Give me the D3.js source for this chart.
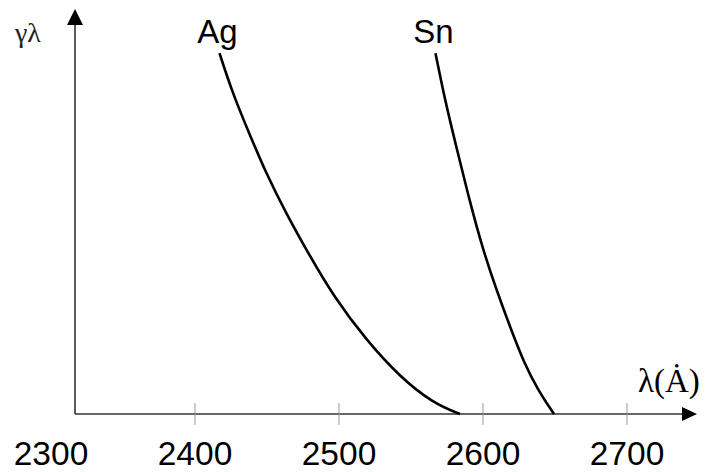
<!DOCTYPE html>
<html>
<head>
<meta charset="utf-8">
<script src="https://cdn.jsdelivr.net/npm/d3@7"></script>
<style>
  html, body { margin: 0; padding: 0; background: #fff; }
  svg { display: block; }
  .curve { fill: none; stroke: #000; stroke-width: 2.6; }
  .axis-line { stroke: #333; stroke-width: 1.6; }
  .tick-mark { stroke: #999; stroke-width: 1; }
</style>
</head>
<body>
<div id="chart"></div>
<script>
// wavelength tick labels (Angstrom)
var tickValues = [2300, 2400, 2500, 2600, 2700];

// Ag curve: wavelength, relative yield
var agLambda = [2417, 2426, 2437.5, 2449.3, 2463.2, 2478.5, 2496.5, 2518.8, 2542.4, 2565.3, 2584];
var agGamma  = [89.1, 79.3, 69.4, 59.5, 49.6, 39.8, 28.9, 18.3, 9.1, 2.7, 0];

// Sn curve
var snLambda = [2567, 2573.6, 2582, 2590.6, 2600, 2609.4, 2618.8, 2628.5, 2638.2, 2649.3];
var snGamma  = [89.1, 77.5, 65.2, 52.8, 40.5, 30.6, 21.5, 12.6, 5.9, 0];

var seriesNames = ['Ag', 'Sn'];

var width = 711;
var height = 472;

var svg = d3.select('#chart').append('svg')
  .attr('width', width)
  .attr('height', height);

var x = d3.scaleLinear()
  .domain([2300, 2700])
  .range([51, 627]);

var y = d3.scaleLinear()
  .domain([0, 100])
  .range([414, 9]);

var originLambda = x.invert(75);
var endLambda = x.invert(697);

// x axis with arrow
svg.append('line')
  .attr('class', 'axis-line')
  .attr('x1', x(originLambda)).attr('y1', y(0))
  .attr('x2', x(endLambda) - 12).attr('y2', y(0));
svg.append('path')
  .attr('d', 'M' + x(endLambda) + ',' + y(0) +
    'L' + (x(endLambda) - 15) + ',' + (y(0) - 7) +
    'L' + (x(endLambda) - 15) + ',' + (y(0) + 7) + 'Z')
  .attr('fill', '#000');

// y axis with arrow
svg.append('line')
  .attr('class', 'axis-line')
  .attr('x1', x(originLambda)).attr('y1', y(0))
  .attr('x2', x(originLambda)).attr('y2', y(100) + 13);
svg.append('path')
  .attr('d', 'M' + x(originLambda) + ',' + y(100) +
    'L' + (x(originLambda) - 8) + ',' + (y(100) + 16) +
    'L' + (x(originLambda) + 8) + ',' + (y(100) + 16) + 'Z')
  .attr('fill', '#000');

// tick marks crossing the axis (only those right of the origin)
svg.append('g')
  .selectAll('line')
  .data(tickValues.filter(function (d) { return x(d) > x(originLambda); }))
  .enter()
  .append('line')
  .attr('class', 'tick-mark')
  .attr('x1', function (d) { return x(d); })
  .attr('x2', function (d) { return x(d); })
  .attr('y1', y(0) - 11)
  .attr('y2', y(0) + 11);

svg.append('g')
  .selectAll('text')
  .data(tickValues)
  .enter()
  .append('text')
  .attr('x', function (d) { return x(d); })
  .attr('y', 465)
  .attr('text-anchor', 'middle')
  .attr('font-family', '"Liberation Sans", Arial, sans-serif')
  .attr('font-size', 33.5)
  .attr('fill', '#000')
  .text(function (d) { return d; });

// curves
var line = d3.line()
  .x(function (d) { return x(d[0]); })
  .y(function (d) { return y(d[1]); })
  .curve(d3.curveBasis);

var series = [
  d3.zip(agLambda, agGamma),
  d3.zip(snLambda, snGamma)
];

svg.append('g')
  .selectAll('path')
  .data(series)
  .enter()
  .append('path')
  .attr('class', 'curve')
  .attr('d', line);

svg.append('g')
  .selectAll('text')
  .data(series)
  .enter()
  .append('text')
  .attr('x', function (d) { return x(d[0][0]) - 2; })
  .attr('y', 43)
  .attr('text-anchor', 'middle')
  .attr('font-family', '"Liberation Sans", Arial, sans-serif')
  .attr('font-size', 33)
  .attr('fill', '#000')
  .text(function (d, i) { return seriesNames[i]; });

// axis titles
svg.append('text')
  .attr('x', 15)
  .attr('y', 42)
  .attr('font-family', '"Liberation Serif", "Times New Roman", serif')
  .attr('font-size', 28)
  .attr('fill', '#222')
  .text('γλ');

svg.append('text')
  .attr('x', 638)
  .attr('y', 392)
  .attr('font-family', '"Liberation Serif", "Times New Roman", serif')
  .attr('font-size', 33)
  .attr('fill', '#000')
  .text('λ(Ȧ)');
</script>
</body>
</html>
